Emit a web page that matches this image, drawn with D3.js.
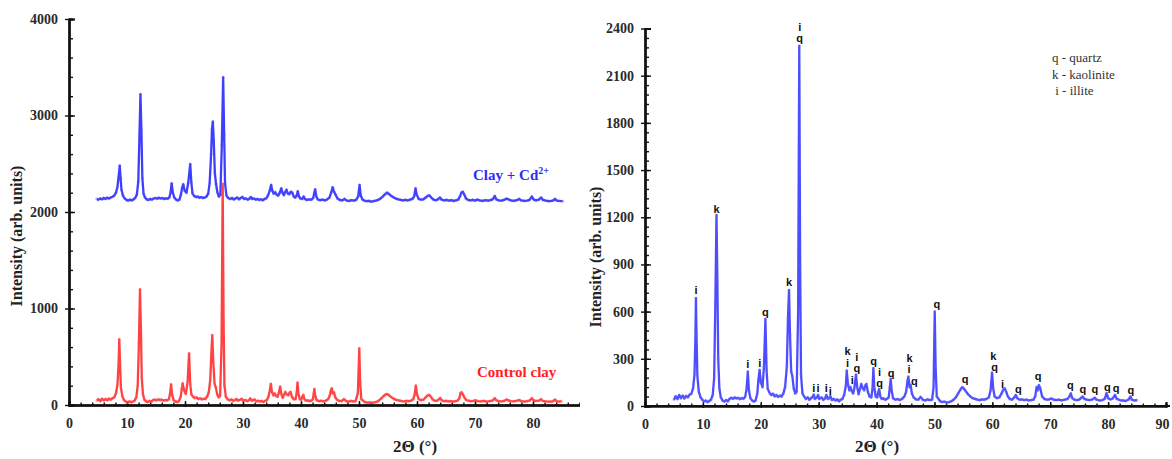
<!DOCTYPE html>
<html>
<head>
<meta charset="utf-8">
<script src="https://cdn.jsdelivr.net/npm/d3@7"></script>
<style>
  html, body { margin: 0; padding: 0; background: #fff; }
  svg { display: block; }
</style>
</head>
<body>
<script>
// ---- Diffraction patterns: [2θ (deg), intensity (arb. units)] ----

// Left panel: control clay
const controlClay = [[4.8,45],[5.1,60],[5.4,40],[5.7,65],[6.0,48],[6.3,62],[6.6,50],[6.9,66],[7.2,55],[7.5,70],[7.8,80],[8.1,120],[8.35,210],[8.55,420],[8.67,681],[8.8,430],[8.95,180],[9.2,90],[9.5,50],[9.8,35],[10.1,25],[10.4,38],[10.7,28],[11.0,35],[11.3,45],[11.6,80],[11.85,200],[12.05,640],[12.24,1199],[12.4,780],[12.55,280],[12.75,110],[13.0,55],[13.3,38],[13.6,30],[13.9,42],[14.2,35],[14.5,50],[14.8,55],[15.1,48],[15.4,58],[15.7,50],[16.0,55],[16.3,46],[16.6,52],[16.9,48],[17.2,60],[17.42,110],[17.6,214],[17.8,100],[18.05,50],[18.35,38],[18.65,30],[18.95,40],[19.25,85],[19.45,170],[19.6,225],[19.85,150],[20.15,115],[20.45,240],[20.7,535],[20.9,220],[21.1,110],[21.4,85],[21.7,72],[22.0,78],[22.3,62],[22.6,70],[22.9,58],[23.2,65],[23.5,62],[23.8,85],[24.1,130],[24.35,260],[24.55,540],[24.7,725],[24.88,440],[25.1,220],[25.3,185],[25.55,110],[25.8,80],[26.05,95],[26.3,620],[26.5,2290],[26.65,880],[26.8,200],[27.05,85],[27.35,60],[27.7,48],[28.0,58],[28.3,42],[28.6,52],[28.9,62],[29.1,45],[29.5,55],[29.8,65],[30.0,45],[30.4,52],[30.7,40],[31.0,48],[31.25,68],[31.5,45],[31.75,50],[32.0,58],[32.3,38],[32.6,44],[32.9,36],[33.2,42],[33.5,32],[33.8,42],[34.1,50],[34.35,80],[34.6,140],[34.8,218],[35.0,135],[35.25,100],[35.45,120],[35.7,95],[35.95,85],[36.15,120],[36.4,190],[36.6,115],[36.85,75],[37.1,110],[37.3,135],[37.55,110],[37.8,100],[38.0,125],[38.2,135],[38.45,85],[38.75,60],[39.05,60],[39.25,120],[39.4,231],[39.55,120],[39.8,60],[40.05,55],[40.25,90],[40.4,105],[40.6,60],[40.85,45],[41.2,48],[41.5,40],[41.8,46],[42.05,60],[42.2,120],[42.3,166],[42.45,95],[42.7,50],[43.1,40],[43.5,44],[43.9,38],[44.3,45],[44.7,62],[44.95,95],[45.15,150],[45.3,173],[45.5,120],[45.7,130],[45.9,80],[46.2,55],[46.6,42],[47.0,40],[47.4,60],[47.8,40],[48.2,35],[48.6,42],[49.0,38],[49.4,40],[49.8,120],[50.05,587],[50.2,240],[50.4,60],[50.7,45],[51.0,30],[51.4,25],[51.8,28],[52.2,22],[52.6,26],[53.0,32],[53.4,45],[53.8,65],[54.2,90],[54.5,105],[54.8,114],[55.1,105],[55.4,90],[55.8,72],[56.2,58],[56.6,50],[57.0,45],[57.4,40],[57.8,38],[58.2,42],[58.6,40],[59.0,45],[59.35,60],[59.6,110],[59.8,200],[60.0,110],[60.3,60],[60.7,50],[61.1,55],[61.5,80],[61.85,100],[62.1,104],[62.4,85],[62.7,58],[63.0,45],[63.4,42],[63.75,58],[64.0,72],[64.25,50],[64.6,40],[65.0,42],[65.4,38],[65.8,40],[66.2,36],[66.6,40],[67.0,45],[67.3,70],[67.5,125],[67.7,131],[67.9,110],[68.2,75],[68.5,50],[68.9,44],[69.3,40],[69.7,42],[70.1,48],[70.5,40],[71.0,38],[71.5,42],[72.0,36],[72.5,40],[73.0,45],[73.2,55],[73.4,70],[73.7,48],[74.1,40],[74.6,38],[75.0,42],[75.4,55],[75.7,50],[76.1,40],[76.6,38],[77.1,42],[77.6,50],[78.0,40],[78.5,36],[79.0,40],[79.4,45],[79.8,70],[80.1,48],[80.5,42],[81.0,45],[81.4,60],[81.7,42],[82.2,38],[82.7,36],[83.2,35],[83.5,42],[83.8,55],[84.1,38],[84.5,36],[84.9,40]];

// Left panel: clay after Cd2+ uptake
const clayCd = [[4.8,2135],[5.1,2128],[5.4,2140],[5.7,2132],[6.0,2145],[6.3,2136],[6.6,2148],[6.9,2140],[7.2,2150],[7.5,2158],[7.8,2170],[8.1,2200],[8.35,2260],[8.55,2360],[8.75,2480],[8.9,2350],[9.05,2230],[9.3,2170],[9.6,2140],[9.9,2125],[10.2,2118],[10.5,2128],[10.8,2120],[11.1,2130],[11.4,2145],[11.7,2180],[11.95,2320],[12.15,2800],[12.32,3220],[12.48,2850],[12.65,2350],[12.85,2190],[13.1,2150],[13.4,2130],[13.7,2125],[14.0,2135],[14.3,2128],[14.6,2140],[14.9,2145],[15.2,2138],[15.5,2148],[15.8,2140],[16.1,2145],[16.4,2135],[16.7,2142],[17.0,2138],[17.3,2150],[17.5,2200],[17.7,2297],[17.9,2200],[18.15,2150],[18.45,2130],[18.75,2120],[19.05,2130],[19.3,2180],[19.5,2250],[19.7,2287],[19.95,2220],[20.25,2200],[20.55,2300],[20.9,2497],[21.1,2300],[21.3,2190],[21.6,2165],[21.9,2155],[22.2,2160],[22.5,2148],[22.8,2155],[23.1,2145],[23.4,2150],[23.7,2160],[24.0,2190],[24.25,2300],[24.5,2600],[24.65,2860],[24.8,2936],[24.95,2750],[25.15,2400],[25.35,2290],[25.6,2200],[25.85,2160],[26.1,2180],[26.35,2700],[26.58,3396],[26.75,2800],[26.9,2300],[27.15,2170],[27.45,2145],[27.8,2135],[28.1,2145],[28.4,2130],[28.7,2140],[29.0,2150],[29.3,2132],[29.6,2145],[29.9,2155],[30.2,2135],[30.5,2142],[30.8,2128],[31.1,2138],[31.35,2155],[31.6,2135],[31.9,2140],[32.2,2128],[32.5,2135],[32.8,2125],[33.1,2132],[33.4,2122],[33.7,2135],[34.0,2140],[34.3,2170],[34.6,2220],[34.85,2280],[35.05,2220],[35.3,2190],[35.55,2205],[35.8,2180],[36.05,2170],[36.3,2195],[36.6,2245],[36.8,2200],[37.05,2175],[37.3,2210],[37.5,2230],[37.75,2190],[38.0,2185],[38.25,2210],[38.5,2200],[38.75,2160],[39.0,2150],[39.25,2170],[39.45,2215],[39.65,2160],[39.9,2140],[40.2,2135],[40.45,2160],[40.7,2135],[41.0,2125],[41.4,2130],[41.8,2128],[42.1,2145],[42.3,2200],[42.45,2235],[42.65,2160],[42.9,2130],[43.3,2122],[43.7,2128],[44.1,2120],[44.5,2130],[44.9,2150],[45.2,2200],[45.45,2256],[45.7,2210],[45.95,2180],[46.3,2140],[46.7,2125],[47.1,2120],[47.5,2135],[47.9,2118],[48.3,2115],[48.7,2122],[49.1,2118],[49.5,2125],[49.85,2160],[50.1,2280],[50.3,2170],[50.6,2130],[50.9,2118],[51.3,2112],[51.7,2115],[52.1,2108],[52.5,2112],[52.9,2118],[53.3,2125],[53.7,2140],[54.1,2160],[54.5,2185],[54.85,2200],[55.2,2185],[55.6,2165],[56.0,2150],[56.4,2138],[56.8,2130],[57.2,2125],[57.6,2120],[58.0,2126],[58.4,2120],[58.8,2128],[59.2,2135],[59.5,2160],[59.75,2245],[59.95,2180],[60.3,2135],[60.7,2128],[61.1,2132],[61.5,2150],[61.85,2168],[62.15,2172],[62.45,2150],[62.8,2130],[63.2,2122],[63.6,2130],[63.95,2150],[64.25,2128],[64.7,2120],[65.1,2125],[65.5,2118],[65.9,2122],[66.3,2115],[66.7,2120],[67.1,2128],[67.4,2160],[67.65,2200],[67.9,2210],[68.15,2180],[68.45,2140],[68.8,2125],[69.2,2120],[69.6,2125],[70.0,2118],[70.4,2128],[70.8,2120],[71.3,2115],[71.8,2122],[72.3,2118],[72.8,2125],[73.1,2135],[73.4,2165],[73.7,2130],[74.1,2120],[74.6,2118],[75.0,2125],[75.4,2138],[75.8,2130],[76.2,2120],[76.7,2115],[77.2,2122],[77.6,2135],[78.0,2120],[78.5,2115],[79.0,2118],[79.4,2125],[79.8,2160],[80.1,2130],[80.5,2120],[81.0,2128],[81.4,2150],[81.7,2125],[82.2,2118],[82.7,2112],[83.2,2115],[83.5,2120],[83.8,2135],[84.1,2118],[84.5,2115],[85.1,2112]];

// Right panel: raw clay with phase identification
const rawClay = [[5.0,40],[5.3,62],[5.6,45],[5.9,70],[6.2,50],[6.5,66],[6.8,48],[7.1,64],[7.4,55],[7.7,72],[8.0,78],[8.3,110],[8.55,200],[8.7,420],[8.8,685],[8.9,450],[9.05,190],[9.3,90],[9.6,55],[9.9,40],[10.2,28],[10.5,35],[10.8,25],[11.1,32],[11.4,40],[11.7,70],[11.95,180],[12.15,650],[12.35,1214],[12.5,800],[12.65,300],[12.85,110],[13.1,55],[13.4,35],[13.7,28],[14.0,38],[14.3,30],[14.6,45],[14.9,52],[15.2,46],[15.5,55],[15.8,48],[16.1,52],[16.4,44],[16.7,50],[17.0,46],[17.3,58],[17.55,110],[17.76,218],[17.95,100],[18.2,50],[18.5,36],[18.8,28],[19.1,35],[19.4,80],[19.6,170],[19.8,229],[20.0,150],[20.3,120],[20.55,250],[20.8,553],[21.0,230],[21.2,110],[21.5,85],[21.8,70],[22.1,78],[22.4,62],[22.7,70],[23.0,58],[23.3,66],[23.6,60],[23.9,80],[24.2,120],[24.5,250],[24.7,560],[24.88,737],[25.05,450],[25.25,220],[25.45,190],[25.7,110],[25.95,80],[26.2,90],[26.45,600],[26.65,2290],[26.8,900],[26.95,200],[27.2,80],[27.5,60],[27.8,45],[28.1,55],[28.4,40],[28.7,50],[29.0,60],[29.15,72],[29.35,45],[29.7,55],[29.9,70],[30.1,45],[30.5,55],[30.8,40],[31.1,48],[31.33,70],[31.6,45],[31.8,50],[32.02,62],[32.3,38],[32.6,45],[32.9,35],[33.2,42],[33.5,30],[33.8,40],[34.1,45],[34.4,70],[34.7,130],[34.85,225],[35.05,140],[35.3,100],[35.5,120],[35.7,97],[35.95,80],[36.15,110],[36.45,200],[36.65,120],[36.9,75],[37.15,110],[37.35,140],[37.6,115],[37.85,100],[38.05,130],[38.25,140],[38.5,90],[38.8,60],[39.1,55],[39.3,110],[39.45,241],[39.6,120],[39.85,60],[40.1,55],[40.3,90],[40.45,108],[40.65,60],[40.9,45],[41.2,48],[41.5,40],[41.8,46],[42.1,55],[42.3,120],[42.45,172],[42.6,100],[42.85,50],[43.2,40],[43.6,44],[44.0,38],[44.4,45],[44.8,60],[45.1,90],[45.35,160],[45.5,186],[45.7,120],[45.9,133],[46.1,80],[46.4,55],[46.8,42],[47.2,40],[47.6,58],[48.0,40],[48.4,35],[48.8,42],[49.2,38],[49.6,40],[49.85,120],[50.05,600],[50.2,250],[50.4,60],[50.7,45],[51.0,30],[51.3,25],[51.7,28],[52.1,22],[52.5,25],[52.9,30],[53.3,40],[53.7,55],[54.1,80],[54.5,105],[54.8,120],[55.1,110],[55.4,95],[55.8,75],[56.2,60],[56.6,50],[57.0,45],[57.4,40],[57.8,38],[58.2,42],[58.6,40],[59.0,45],[59.4,55],[59.7,100],[59.95,212],[60.15,110],[60.4,60],[60.8,50],[61.2,55],[61.6,80],[61.9,105],[62.15,112],[62.4,90],[62.7,60],[63.0,45],[63.4,40],[63.8,55],[64.05,70],[64.3,50],[64.7,40],[65.1,42],[65.5,38],[65.9,40],[66.3,35],[66.7,38],[67.1,40],[67.4,60],[67.65,120],[67.85,100],[68.05,133],[68.3,110],[68.6,60],[69.0,45],[69.4,40],[69.8,42],[70.2,48],[70.6,40],[71.0,38],[71.5,40],[72.0,36],[72.5,40],[73.0,45],[73.3,60],[73.55,80],[73.8,50],[74.2,40],[74.6,38],[75.0,40],[75.3,50],[75.6,60],[75.9,45],[76.3,40],[76.8,38],[77.3,42],[77.7,52],[78.0,40],[78.5,35],[79.0,38],[79.4,45],[79.75,82],[80.0,50],[80.4,42],[80.8,48],[81.2,70],[81.5,45],[82.0,38],[82.5,35],[83.0,32],[83.5,40],[83.85,60],[84.1,40],[84.5,35],[85.0,38]];

// Phase markers on the right panel: [2θ, intensity at letter centre, phase letter]
const phaseTags = [[8.8,737,"i"],[12.35,1250,"k"],[17.76,267,"i"],[19.83,271,"i"],[20.81,600,"q"],[24.88,790,"k"],[26.72,2411,"i"],[26.72,2338,"q"],[29.14,113,"i"],[29.88,113,"i"],[31.33,113,"i"],[32.02,97,"i"],[35.0,352,"k"],[35.0,271,"i"],[35.81,165,"i"],[36.6,313,"i"],[36.6,240,"q"],[39.48,286,"q"],[40.52,218,"i"],[40.52,148,"q"],[42.53,208,"q"],[45.69,303,"k"],[45.6,233,"i"],[46.55,161,"q"],[50.4,647,"q"],[55.29,170,"q"],[60.17,318,"k"],[60.4,250,"q"],[61.78,140,"i"],[64.48,106,"q"],[67.93,191,"q"],[73.5,134,"q"],[75.64,106,"q"],[77.71,106,"q"],[79.88,123,"q"],[81.38,113,"q"],[83.91,102,"q"]];

const phaseLegend = ["q - quartz", "k - kaolinite", " i - illite"];

// Axis ticks
const angleTicks = d3.range(0, 91, 10);
const angleMinor = d3.range(0, 91, 2);
const leftTicks = [0, 1000, 2000, 3000, 4000];
const leftMinor = d3.range(0, 4001, 200);
const rightTicks = d3.range(0, 2401, 300);
const rightMinor = d3.range(0, 2401, 60);

// ---- Drawing ----
const W = 1172, H = 459;
const SERIF = "'Liberation Serif', 'DejaVu Serif', serif";
const svg = d3.select("body").append("svg").attr("width", W).attr("height", H);

svg.append("defs").append("clipPath").attr("id", "leftClip")
  .append("rect").attr("x", 0).attr("y", 0).attr("width", 580).attr("height", H);

function drawAxes(g, x, y, yMajor, yMinor) {
  const [x0] = x.range();
  const [y0] = y.range();
  // minor ticks (inside)
  g.append("g").attr("transform", `translate(0,${y0})`)
    .call(d3.axisBottom(x).tickValues(angleMinor).tickSize(-2.5).tickFormat(""));
  g.append("g").attr("transform", `translate(${x0},0)`)
    .call(d3.axisLeft(y).tickValues(yMinor).tickSize(-4).tickFormat(""));
  // major ticks: inward part
  g.append("g").attr("transform", `translate(0,${y0})`)
    .call(d3.axisBottom(x).tickValues(angleTicks).tickSize(-4).tickFormat(""));
  g.append("g").attr("transform", `translate(${x0},0)`)
    .call(d3.axisLeft(y).tickValues(yMajor).tickSize(-6).tickFormat(""));
  // major ticks: outward part with labels
  g.append("g").attr("class", "xaxis").attr("transform", `translate(0,${y0})`)
    .call(d3.axisBottom(x).tickValues(angleTicks).tickSize(2).tickSizeOuter(0).tickPadding(11).tickFormat(d3.format("d")));
  g.append("g").attr("class", "yaxis").attr("transform", `translate(${x0},0)`)
    .call(d3.axisLeft(y).tickValues(yMajor).tickSize(4).tickSizeOuter(0).tickPadding(7).tickFormat(d3.format("d")));
  g.selectAll(".domain").attr("stroke", "#111").attr("stroke-width", 2);
  g.selectAll(".tick line").attr("stroke", "#111").attr("stroke-width", 1.4);
  g.selectAll("text").attr("font-family", SERIF).attr("font-weight", "bold")
    .attr("font-size", 14).attr("fill", "#2a2a2a");
}

function drawPattern(g, x, y, data, color, dotColor) {
  const line = d3.line().x(d => x(d[0])).y(d => y(d[1]));
  g.append("path").datum(data).attr("d", line)
    .attr("fill", "none").attr("stroke", color).attr("stroke-width", 2.3)
    .attr("stroke-opacity", 0.85).attr("stroke-linejoin", "round");
  g.append("g").selectAll("circle").data(data).join("circle")
    .attr("cx", d => x(d[0])).attr("cy", d => y(d[1])).attr("r", 1.6)
    .attr("fill", dotColor).attr("fill-opacity", 0.35);
}

// Left panel
const xL = d3.scaleLinear().domain([0, 90]).range([69, 591]);
const yL = d3.scaleLinear().domain([0, 4000]).range([405, 19]);
const left = svg.append("g").attr("clip-path", "url(#leftClip)");
drawAxes(left, xL, yL, leftTicks, leftMinor);
drawPattern(left, xL, yL, clayCd, "#1c1cff", "#4a4aff");
drawPattern(left, xL, yL, controlClay, "#ff2020", "#ff5555");

left.append("text").attr("x", 473).attr("y", 180)
  .attr("font-family", SERIF).attr("font-weight", "bold").attr("font-size", 15).attr("fill", "#2b2bff")
  .text("Clay + Cd")
  .append("tspan").attr("font-size", 10).attr("dy", -6).text("2+");
left.append("text").attr("x", 477).attr("y", 377)
  .attr("font-family", SERIF).attr("font-weight", "bold").attr("font-size", 15).attr("fill", "#ff2020")
  .text("Control clay");

left.append("text").attr("transform", "translate(22,236) rotate(-90)")
  .attr("text-anchor", "middle").attr("font-family", SERIF).attr("font-weight", "bold")
  .attr("font-size", 16).attr("fill", "#222").text("Intensity (arb. units)");
left.append("text").attr("x", 415).attr("y", 452).attr("text-anchor", "middle")
  .attr("font-family", SERIF).attr("font-weight", "bold").attr("font-size", 17).attr("fill", "#222")
  .text("2Θ (°)");

// Right panel
const xR = d3.scaleLinear().domain([0, 90]).range([645, 1166]);
const yR = d3.scaleLinear().domain([0, 2400]).range([406, 28.5]);
const right = svg.append("g");
drawAxes(right, xR, yR, rightTicks, rightMinor);
right.select(".xaxis").select(".domain").attr("d", `M${xR(0)},0H${xR(90) + 4}`);
// keep the last angle label inside the page edge
right.select(".xaxis").selectAll(".tick text").filter(d => d === 90).attr("x", -4);
drawPattern(right, xR, yR, rawClay, "#2e2eff", "#6464ff");

right.append("g").selectAll("text").data(phaseTags).join("text")
  .attr("x", d => xR(d[0])).attr("y", d => yR(d[1]))
  .attr("dy", "0.36em").attr("text-anchor", "middle")
  .attr("font-family", "'Liberation Sans', Arial, sans-serif").attr("font-weight", "bold")
  .attr("font-size", 11).attr("fill", "#111").text(d => d[2]);

right.append("g").selectAll("text").data(phaseLegend).join("text")
  .attr("x", 1052).attr("y", (d, i) => 62 + i * 16.5)
  .attr("xml:space", "preserve")
  .attr("font-family", SERIF).attr("font-size", 13).attr("fill", "#333").text(d => d);

right.append("text").attr("transform", "translate(601,257) rotate(-90)")
  .attr("text-anchor", "middle").attr("font-family", SERIF).attr("font-weight", "bold")
  .attr("font-size", 16).attr("fill", "#222").text("Intensity (arb. units)");
right.append("text").attr("x", 877).attr("y", 452).attr("text-anchor", "middle")
  .attr("font-family", SERIF).attr("font-weight", "bold").attr("font-size", 17).attr("fill", "#222")
  .text("2Θ (°)");
</script>
</body>
</html>
